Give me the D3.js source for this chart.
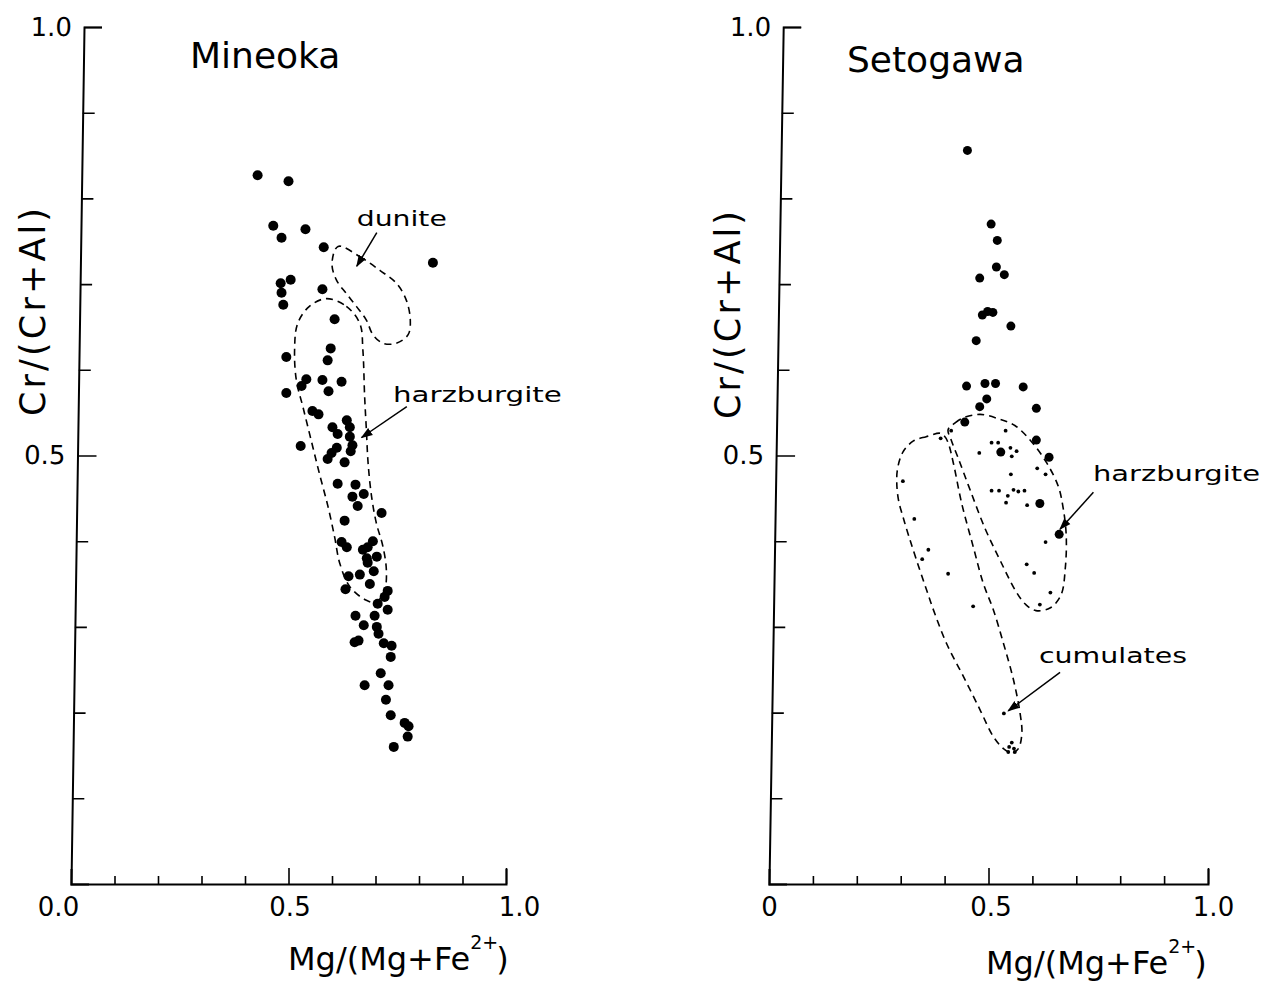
<!DOCTYPE html>
<html>
<head>
<meta charset="utf-8">
<title>Cr-spinel: Mineoka and Setogawa</title>
<script src="https://d3js.org/d3.v7.min.js"></script>
<style>
  body { margin: 0; background: #fff; }
  text { font-family: "DejaVu Sans", sans-serif; fill: #000; }
  .axis path { stroke: #000; stroke-width: 2; fill: none; }
  .axis line { stroke: #000; stroke-width: 1.6; }
  .axis text { font-size: 26px; }
  .envelope { fill: none; stroke: #000; stroke-width: 1.6; stroke-dasharray: 7,5; }
  .arrow { stroke: #000; stroke-width: 1.5; }
</style>
</head>
<body>
<svg width="1262" height="981"></svg>
<script>
// Mineoka: Mg/(Mg+Fe2+) and Cr/(Cr+Al) of each spinel
const mineokaMg = [0.429, 0.500, 0.465, 0.539, 0.484, 0.581, 0.832, 0.505, 0.482, 0.484,
  0.578, 0.488, 0.606, 0.597, 0.495, 0.590, 0.541, 0.530, 0.578, 0.622,
  0.495, 0.592, 0.555, 0.569, 0.634, 0.601, 0.641, 0.613, 0.641, 0.528,
  0.647, 0.611, 0.599, 0.643, 0.590, 0.629, 0.613, 0.654, 0.647, 0.673,
  0.659, 0.714, 0.629, 0.622, 0.634, 0.694, 0.682, 0.671, 0.703, 0.680,
  0.682, 0.696, 0.638, 0.664, 0.687, 0.631, 0.728, 0.721, 0.705, 0.728,
  0.654, 0.698, 0.673, 0.703, 0.707, 0.652, 0.661, 0.719, 0.737, 0.735,
  0.712, 0.675, 0.730, 0.724, 0.735, 0.767, 0.776, 0.774, 0.742];
const mineokaCr = [0.827, 0.820, 0.768, 0.764, 0.754, 0.743, 0.725, 0.705, 0.701, 0.690,
  0.694, 0.676, 0.659, 0.625, 0.615, 0.611, 0.589, 0.581, 0.588, 0.586,
  0.573, 0.575, 0.552, 0.548, 0.541, 0.533, 0.533, 0.525, 0.522, 0.511,
  0.512, 0.509, 0.503, 0.505, 0.496, 0.492, 0.467, 0.466, 0.452, 0.455,
  0.441, 0.433, 0.424, 0.399, 0.393, 0.400, 0.393, 0.390, 0.382, 0.380,
  0.375, 0.365, 0.359, 0.361, 0.350, 0.344, 0.342, 0.335, 0.327, 0.320,
  0.313, 0.313, 0.302, 0.300, 0.292, 0.282, 0.284, 0.281, 0.278, 0.265,
  0.246, 0.232, 0.232, 0.215, 0.197, 0.188, 0.184, 0.172, 0.160];

// Setogawa: harzburgite (large dots) and cumulate (small dots) spinels
const setoHarzMg = [0.452, 0.506, 0.520, 0.518, 0.536, 0.480, 0.486, 0.498, 0.510, 0.551,
  0.472, 0.450, 0.492, 0.516, 0.579, 0.496, 0.480, 0.609, 0.446, 0.609,
  0.528, 0.638, 0.617, 0.661];
const setoHarzCr = [0.856, 0.770, 0.751, 0.720, 0.711, 0.707, 0.664, 0.668, 0.667, 0.651,
  0.634, 0.581, 0.584, 0.584, 0.580, 0.566, 0.557, 0.555, 0.539, 0.518,
  0.504, 0.498, 0.444, 0.408];
const setoSmallMg = [0.415, 0.391, 0.539, 0.507, 0.522, 0.479, 0.550, 0.564, 0.553, 0.611,
  0.630, 0.551, 0.507, 0.524, 0.557, 0.568, 0.582, 0.544, 0.540, 0.588,
  0.630, 0.305, 0.331, 0.363, 0.349, 0.408, 0.587, 0.604, 0.641, 0.465,
  0.617, 0.535, 0.553, 0.547, 0.558, 0.560, 0.545];
const setoSmallCr = [0.529, 0.520, 0.529, 0.515, 0.515, 0.503, 0.509, 0.505, 0.499, 0.485,
  0.478, 0.478, 0.459, 0.459, 0.460, 0.458, 0.459, 0.453, 0.445, 0.442,
  0.399, 0.470, 0.426, 0.390, 0.379, 0.362, 0.373, 0.363, 0.340, 0.324,
  0.326, 0.199, 0.165, 0.160, 0.158, 0.154, 0.154];

// dashed fields, [Mg#, Cr#]
const duniteField = [[0.614, 0.744], [0.664, 0.732], [0.710, 0.716], [0.748, 0.701], [0.771, 0.681],
  [0.780, 0.658], [0.775, 0.641], [0.748, 0.631], [0.717, 0.631], [0.694, 0.641],
  [0.679, 0.658], [0.656, 0.674], [0.633, 0.689], [0.610, 0.705], [0.600, 0.724]];
const mineokaHarzField = [[0.587, 0.683], [0.633, 0.674], [0.664, 0.654], [0.671, 0.623], [0.675, 0.569],
  [0.679, 0.530], [0.683, 0.491], [0.691, 0.452], [0.702, 0.421], [0.717, 0.394],
  [0.725, 0.366], [0.721, 0.343], [0.702, 0.329], [0.679, 0.331], [0.641, 0.347],
  [0.618, 0.374], [0.606, 0.405], [0.591, 0.440], [0.571, 0.479], [0.552, 0.518],
  [0.533, 0.557], [0.518, 0.588], [0.514, 0.623], [0.521, 0.654], [0.548, 0.674]];
const setoHarzField = [[0.408, 0.530], [0.424, 0.538], [0.443, 0.544], [0.481, 0.548], [0.522, 0.543],
  [0.560, 0.535], [0.598, 0.516], [0.633, 0.491], [0.659, 0.464], [0.670, 0.439],
  [0.677, 0.407], [0.675, 0.369], [0.665, 0.337], [0.640, 0.322], [0.608, 0.319],
  [0.585, 0.326], [0.563, 0.341], [0.528, 0.376], [0.492, 0.415], [0.458, 0.460],
  [0.431, 0.497], [0.415, 0.518]];
const cumulateField = [[0.390, 0.526], [0.358, 0.522], [0.329, 0.517], [0.305, 0.504], [0.293, 0.485],
  [0.291, 0.469], [0.295, 0.448], [0.306, 0.427], [0.319, 0.405], [0.336, 0.378],
  [0.359, 0.343], [0.378, 0.315], [0.405, 0.280], [0.443, 0.242], [0.481, 0.203],
  [0.511, 0.172], [0.534, 0.158], [0.553, 0.153], [0.568, 0.158], [0.576, 0.176],
  [0.572, 0.199], [0.557, 0.238], [0.534, 0.281], [0.511, 0.320], [0.488, 0.351],
  [0.465, 0.394], [0.439, 0.444], [0.420, 0.491], [0.408, 0.515], [0.399, 0.523]];

const svg = d3.select("svg");

svg.append("defs").append("marker")
  .attr("id", "head")
  .attr("viewBox", "0 0 10 10")
  .attr("refX", 9).attr("refY", 5)
  .attr("markerWidth", 12).attr("markerHeight", 12)
  .attr("markerUnits", "userSpaceOnUse")
  .attr("orient", "auto")
  .append("path").attr("d", "M0,1.5L10,5L0,8.5Z").attr("fill", "#000");

const panels = [
  {
    title: "Mineoka", titlePos: [190, 68],
    xRange: [71, 506], tilt: 0.87,
    xLabels: { 0: "0.0", 0.5: "0.5", 1: "1.0" }, xShift: { 0: -13, 0.5: 1, 1: 13 },
    yTitlePos: [45, 312], xTitlePos: [288, 970],
    fields: [duniteField, mineokaHarzField],
    dots: [{ mg: mineokaMg, cr: mineokaCr, r: 5 }],
    notes: [
      { text: "dunite", at: [0.657, 0.768], len: 90, from: [0.703, 0.760], to: [0.657, 0.721] },
      { text: "harzburgite", at: [0.740, 0.563], len: 169, from: [0.772, 0.557], to: [0.668, 0.521] }
    ]
  },
  {
    title: "Setogawa", titlePos: [847, 72],
    xRange: [769, 1208], tilt: 0.95,
    xLabels: { 0: "0", 0.5: "0.5", 1: "1.0" }, xShift: { 0: 0, 0.5: 2, 1: 5 },
    yTitlePos: [740, 315], xTitlePos: [986, 974],
    fields: [setoHarzField, cumulateField],
    dots: [{ mg: setoHarzMg, cr: setoHarzCr, r: 4.5 }, { mg: setoSmallMg, cr: setoSmallCr, r: 1.9 }],
    notes: [
      { text: "harzburgite", at: [0.738, 0.470], len: 167, from: [0.739, 0.457], to: [0.663, 0.414] },
      { text: "cumulates", at: [0.615, 0.258], len: 148, from: [0.663, 0.247], to: [0.545, 0.202] }
    ]
  }
];

const tenths = d3.range(0, 11).map(i => i / 10);

panels.forEach(p => {
  const x = d3.scaleLinear().domain([0, 1]).range(p.xRange);
  const y = d3.scaleLinear().domain([0, 1]).range([884, 27]);
  const g = svg.append("g");

  // x axis, ticks pointing into the plot
  const xAxis = g.append("g").attr("class", "axis")
    .attr("transform", "translate(0,884)")
    .call(d3.axisBottom(x).tickValues(tenths)
      .tickSizeInner(-8).tickSizeOuter(-15).tickPadding(14)
      .tickFormat(d => p.xLabels[d] || ""));
  xAxis.selectAll(".tick line")
    .attr("y2", d => d === 0 ? 0 : (d === 0.5 || d === 1) ? -16 : -8);
  xAxis.selectAll(".tick text").attr("dx", d => p.xShift[d] || 0);

  // y axis (the scan leans slightly)
  const yAxis = g.append("g").attr("class", "axis")
    .attr("transform", `translate(${x(0)},884) skewX(${-p.tilt}) translate(0,-884)`)
    .call(d3.axisLeft(y).tickValues(tenths.slice(1))
      .tickSizeInner(-12).tickSizeOuter(-18).tickPadding(12)
      .tickFormat(d => d === 0.5 ? "0.5" : d === 1 ? "1.0" : ""));
  yAxis.selectAll(".tick line").attr("x2", d => d === 0.5 ? 19 : d === 1 ? 18 : 12);

  // dashed fields
  const outline = d3.line()
    .x(d => x(d[0])).y(d => y(d[1]))
    .curve(d3.curveCatmullRomClosed.alpha(0.5));
  g.append("g").selectAll("path")
    .data(p.fields).join("path")
    .attr("class", "envelope")
    .attr("d", outline);

  // analyses
  p.dots.forEach(s => {
    g.append("g").selectAll("circle")
      .data(d3.range(s.mg.length)).join("circle")
      .attr("cx", i => x(s.mg[i]))
      .attr("cy", i => y(s.cr[i]))
      .attr("r", s.r)
      .attr("fill", "#000");
  });

  // labels with arrows
  p.notes.forEach(n => {
    g.append("text")
      .attr("x", x(n.at[0])).attr("y", y(n.at[1]))
      .attr("font-size", 22)
      .attr("textLength", n.len).attr("lengthAdjust", "spacingAndGlyphs")
      .text(n.text);
    g.append("line").attr("class", "arrow")
      .attr("x1", x(n.from[0])).attr("y1", y(n.from[1]))
      .attr("x2", x(n.to[0])).attr("y2", y(n.to[1]))
      .attr("marker-end", "url(#head)");
  });

  g.append("text")
    .attr("x", p.titlePos[0]).attr("y", p.titlePos[1])
    .attr("font-size", 36)
    .text(p.title);

  g.append("text")
    .attr("transform", `translate(${p.yTitlePos[0]},${p.yTitlePos[1]}) rotate(-90)`)
    .attr("text-anchor", "middle")
    .attr("font-size", 35)
    .attr("textLength", 208).attr("lengthAdjust", "spacing")
    .text("Cr/(Cr+Al)");

  const xt = g.append("text")
    .attr("x", p.xTitlePos[0]).attr("y", p.xTitlePos[1])
    .attr("font-size", 32);
  xt.append("tspan").text("Mg/(Mg+Fe");
  xt.append("tspan").attr("dx", 0).attr("dy", -21).attr("font-size", 19).text("2+");
  xt.append("tspan").attr("dx", -2).attr("dy", 21).text(")");
});
</script>
</body>
</html>
